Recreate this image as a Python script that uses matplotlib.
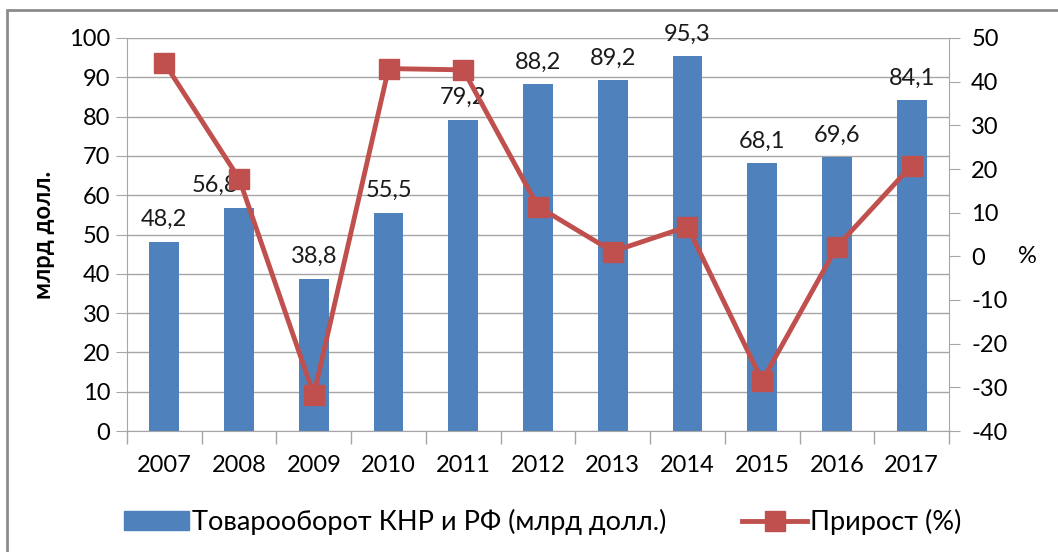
import matplotlib.pyplot as plt
from matplotlib.patches import Rectangle
from matplotlib.lines import Line2D

years = ["2007", "2008", "2009", "2010", "2011", "2012", "2013", "2014", "2015", "2016", "2017"]
trade = [48.2, 56.8, 38.8, 55.5, 79.2, 88.2, 89.2, 95.3, 68.1, 69.6, 84.1]
growth = [44.3, 17.8, -31.7, 43.0, 42.7, 11.4, 1.1, 6.8, -28.5, 2.2, 20.8]
# small manual label shifts (in category units), as in the original
label_dx = [0, -0.32, 0, 0, 0, 0, 0, 0, 0, 0, 0]

plt.rcParams['font.family'] = ['Lato', 'DejaVu Sans']
plt.rcParams['axes.unicode_minus'] = False
blue = "#4F81BD"
red = "#C0504D"
grid = "#A6A6A6"
fs = 17

fig = plt.figure(figsize=(10.58, 5.52), dpi=100)
ax = fig.add_axes([127 / 1058, 1 - 431 / 552, (949 - 127) / 1058, (431 - 38) / 552])

x = range(len(years))
ax.bar(x, trade, width=0.4, color=blue, zorder=2)
for i, v in enumerate(trade):
    ax.text(i + label_dx[i], v + 3, f"{v:.1f}".replace(".", ","), ha="center", va="bottom",
            fontsize=fs, color="#1a1a1a")

ax.set_xlim(-0.5, len(years) - 0.5)
ax.set_ylim(0, 100)
ax.set_yticks(range(0, 101, 10))
ax.yaxis.grid(True, color=grid, linewidth=1)
ax.set_axisbelow(True)
ax.set_xticks(x)
ax.set_xticklabels(years)
ax.set_xticks([i - 0.5 for i in range(len(years) + 1)], minor=True)
ax.tick_params(axis="x", which="major", length=0, pad=17, labelsize=fs)
ax.tick_params(axis="x", which="minor", length=9, color=grid, width=1)
ax.tick_params(axis="y", length=8, color=grid, labelsize=fs, pad=4)
for s in ["top", "right"]:
    ax.spines[s].set_visible(False)
for s in ["left", "bottom"]:
    ax.spines[s].set_color(grid)
ax.set_ylabel("млрд долл.", fontsize=fs, fontweight="bold", labelpad=10)

ax2 = ax.twinx()
ax2.plot(x, growth, color=red, linewidth=3.5, marker="s", markersize=14, zorder=3)
ax2.set_ylim(-40, 50)
ax2.set_yticks(range(-40, 51, 10))
ax2.tick_params(axis="y", length=8, color=grid, labelsize=fs, pad=8)
for s in ["top", "left", "bottom"]:
    ax2.spines[s].set_visible(False)
ax2.spines["right"].set_color(grid)
fig.text(1027 / 1058, 1 - 256 / 552, "%", fontsize=fs, ha="center", va="center")

handles = [Rectangle((0, 0), 1, 1, color=blue),
           Line2D([], [], color=red, linewidth=3.5, marker="s", markersize=14)]
fig.legend(handles, ["Товарооборот КНР и РФ (млрд долл.)", "Прирост (%)"],
           loc="center", bbox_to_anchor=(0.513, 1 - 522 / 552), ncol=2, frameon=False,
           fontsize=19.5, handlelength=2.4, handletextpad=0.1, columnspacing=2.8)

fig.patches.append(Rectangle((7 / 1058, -0.05), 1.1, 1 - 10 / 552 + 0.05, transform=fig.transFigure,
                             fill=False, edgecolor="#8c8c8c", linewidth=2))

fig.savefig("out.png", dpi=100)
